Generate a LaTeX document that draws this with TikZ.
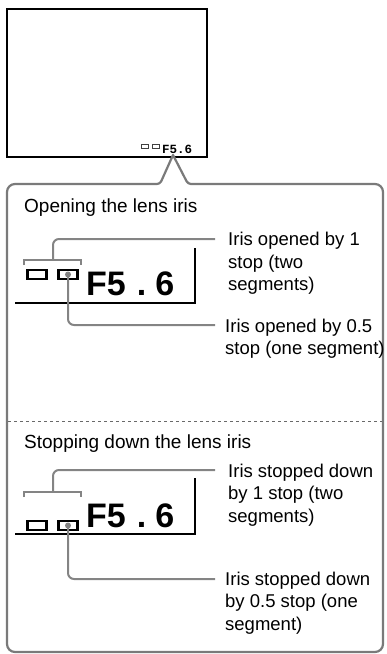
\documentclass[tikz,border=0pt]{standalone}
\usepackage{fontspec}
\setmainfont{Liberation Sans}
\newfontfamily\dispmono{Liberation Mono}
\usetikzlibrary{positioning, calc}
\definecolor{outgray}{RGB}{122,122,122}
\definecolor{leadgray}{RGB}{132,132,132}
\definecolor{dashgray}{RGB}{105,105,105}

\begin{document}
\begin{tikzpicture}[
  x=1pt, y=-1pt,
  % --- Styles ---
  ttl/.style={anchor=base west, inner sep=0pt, font=\fontsize{19}{23}\selectfont},
  lbl/.style={anchor=base west, inner sep=0pt, align=left,
    font=\fontsize{18.5}{22.5}\selectfont},
  fnum/.style={anchor=base west, inner sep=0pt,
    font=\fontsize{34}{40}\selectfont\bfseries},
  seg/.style={rectangle, draw=black, line width=2.2pt, minimum width=19pt,
    minimum height=9pt, inner sep=0pt},
  miniseg/.style={rectangle, draw=black!75, line width=0.7pt, minimum width=7.5pt,
    minimum height=4.5pt, inner sep=0pt},
  dotmark/.style={circle, fill=leadgray, minimum size=6pt, inner sep=0pt},
  leader/.style={draw=leadgray, line width=2pt, rounded corners=6pt},
  frameln/.style={draw=black, line width=1.2pt},
]
\useasboundingbox (0,0) rectangle (387,654);

% === SCREEN ===
\draw[line width=1.3pt] (7,9) rectangle (207,157);
\node[miniseg] (mini1) at (145,146.5) {};
\node[miniseg] (mini2) at (156,146.5) {};
\node[anchor=base west, inner sep=0pt,
      font=\dispmono\bfseries\fontsize{12.5}{14}\selectfont] (minif) at (162,153) {F5.6};

% === CALLOUT FRAME ===
\draw[outgray, line width=2.2pt, line cap=round, line join=round, rounded corners=8pt]
  (173,155) [rounded corners=3pt] -- (188,184) [rounded corners=8pt] -- (383,184)
  -- (383,652) -- (7,652) -- (7,184) [rounded corners=3pt] -- (160,184)
  [sharp corners] -- (173,155);
\draw[dashgray, line width=1pt, dash pattern=on 3pt off 3pt] (8,421) -- (382,421);

% === OPENING ===
\node[ttl] (ttlA) at (24,212) {Opening the lens iris};
\draw[frameln] (15,303) -| (195,248);
\node[seg] (sqA1) at (37,274.5) {};
\node[seg] (sqA2) at (68,274.5) {};
\node[dotmark] (dotA) at (sqA2) {};
\node[fnum] (fA) at (86,295) {F5\hspace{11pt}.\hspace{9pt}6};
\coordinate (brkA) at (53,260);
\coordinate (endA1) at (215,239);
\coordinate (endA2) at (215,325);
\draw[leader, rounded corners=0pt] (24,265) -- (24,260) -- (81,260) -- (81,265);
\draw[leader] (brkA) |- (endA1);
\draw[leader] (dotA.center) |- (endA2);
% base anchor sits on the last line
\node[lbl] (labA1) at (228,290.5) {Iris opened by 1\\stop (two\\segments)};
\node[lbl] (labA2) at (225,354.5) {Iris opened by 0.5\\stop (one segment)};

% === STOPPING DOWN ===
\node[ttl] (ttlB) at (24,448) {Stopping down the lens iris};
\draw[frameln] (15,534) -| (195,478);
\node[seg] (sqB1) at (37,525.5) {};
\node[seg] (sqB2) at (68,525.5) {};
\node[dotmark] (dotB) at (sqB2) {};
\node[fnum] (fB) at (86,527) {F5\hspace{11pt}.\hspace{9pt}6};
\coordinate (brkB) at (53,492);
\coordinate (endB1) at (215,470);
\coordinate (endB2) at (215,579);
\draw[leader, rounded corners=0pt] (24,497) -- (24,492) -- (81,492) -- (81,497);
\draw[leader] (brkB) |- (endB1);
\draw[leader] (dotB.center) |- (endB2);
\node[lbl] (labB1) at (228,522) {Iris stopped down\\by 1 stop (two\\segments)};
\node[lbl] (labB2) at (225,630) {Iris stopped down\\by 0.5 stop (one\\segment)};
\end{tikzpicture}
\end{document}
